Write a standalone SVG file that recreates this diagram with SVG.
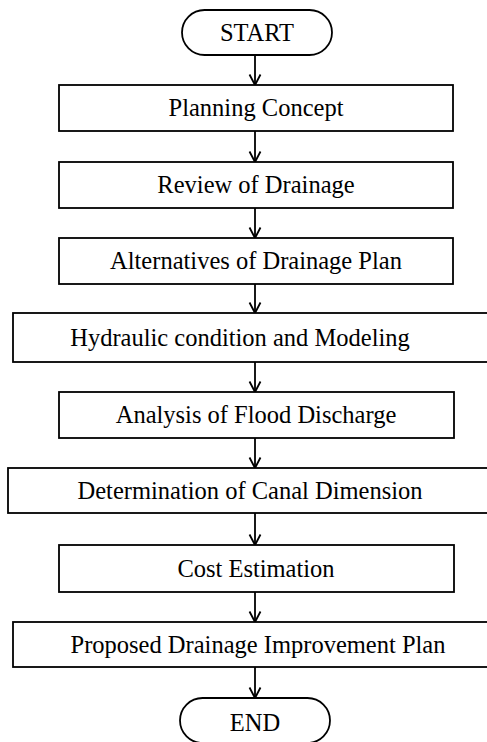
<svg xmlns="http://www.w3.org/2000/svg" width="487" height="742" viewBox="0 0 487 742">
<style>
.box{fill:#fff;stroke:#000;stroke-width:1.8}
.t{font-family:"Liberation Serif","Times New Roman",serif;font-size:24.5px;fill:#000;text-anchor:middle}
.c{stroke:#000;stroke-width:1.8;fill:none}
</style>
<defs>
<marker id="ah" markerWidth="14" markerHeight="14" refX="12.5" refY="7" orient="auto" markerUnits="userSpaceOnUse" viewBox="0 0 14 14">
<path d="M2,1.5 L12.5,7 L2,12.5" fill="none" stroke="#000" stroke-width="1.8"/>
</marker>
</defs>
<rect width="487" height="742" fill="#fff"/>
<g id="connectors">
<line class="c" x1="255" y1="55" x2="255" y2="85" marker-end="url(#ah)"/>
<line class="c" x1="255" y1="131" x2="255" y2="162" marker-end="url(#ah)"/>
<line class="c" x1="255" y1="208" x2="255" y2="238" marker-end="url(#ah)"/>
<line class="c" x1="255" y1="284" x2="255" y2="313" marker-end="url(#ah)"/>
<line class="c" x1="255" y1="362" x2="255" y2="392" marker-end="url(#ah)"/>
<line class="c" x1="255" y1="438" x2="255" y2="468" marker-end="url(#ah)"/>
<line class="c" x1="255" y1="513" x2="255" y2="545" marker-end="url(#ah)"/>
<line class="c" x1="255" y1="592" x2="255" y2="622" marker-end="url(#ah)"/>
<line class="c" x1="255" y1="667" x2="255" y2="698" marker-end="url(#ah)"/>
</g>
<g id="start">
<rect class="box" x="182" y="10" width="150" height="45" rx="22.5"/>
<text class="t" x="257" y="41">START</text>
</g>
<g id="planning">
<rect class="box" x="59" y="85" width="394" height="46"/>
<text class="t" x="256" y="116">Planning Concept</text>
</g>
<g id="review">
<rect class="box" x="59" y="162" width="394" height="46"/>
<text class="t" x="256" y="193">Review of Drainage</text>
</g>
<g id="alternatives">
<rect class="box" x="59" y="238" width="394" height="46"/>
<text class="t" x="256" y="269">Alternatives of Drainage Plan</text>
</g>
<g id="hydraulic">
<rect class="box" x="13" y="313" width="490" height="49"/>
<text class="t" x="240" y="346">Hydraulic condition and Modeling</text>
</g>
<g id="analysis">
<rect class="box" x="59" y="392" width="395" height="46"/>
<text class="t" x="256" y="423">Analysis of Flood Discharge</text>
</g>
<g id="determination">
<rect class="box" x="8" y="468" width="495" height="45"/>
<text class="t" x="250" y="499">Determination of Canal Dimension</text>
</g>
<g id="cost">
<rect class="box" x="59" y="545" width="395" height="47"/>
<text class="t" x="256" y="577">Cost Estimation</text>
</g>
<g id="proposed">
<rect class="box" x="13" y="622" width="490" height="45"/>
<text class="t" x="258" y="653">Proposed Drainage Improvement Plan</text>
</g>
<g id="end">
<rect class="box" x="180" y="698" width="150" height="45" rx="22.5"/>
<text class="t" x="255" y="731">END</text>
</g>
</svg>
